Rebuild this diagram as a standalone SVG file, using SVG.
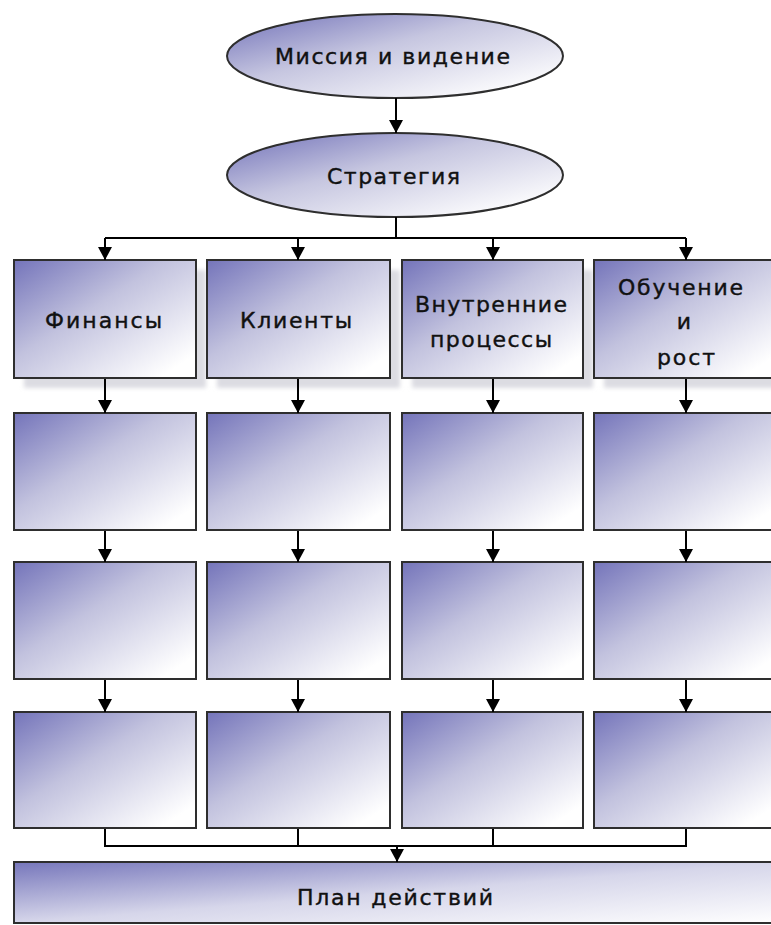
<svg xmlns="http://www.w3.org/2000/svg" width="771" height="925" viewBox="0 0 771 925">
  <defs>
    <linearGradient id="boxFill" x1="0" y1="0" x2="1" y2="1">
      <stop offset="0" stop-color="#7474ba"/>
      <stop offset="0.42" stop-color="#c2c2de"/>
      <stop offset="0.9" stop-color="#ffffff"/>
    </linearGradient>
    <linearGradient id="ovalFill" x1="0" y1="0" x2="1" y2="1">
      <stop offset="0" stop-color="#7070b8"/>
      <stop offset="0.42" stop-color="#c6c6e0"/>
      <stop offset="0.9" stop-color="#ffffff"/>
    </linearGradient>
    <linearGradient id="planFill" x1="0" y1="0" x2="1" y2="1">
      <stop offset="0" stop-color="#7676bb"/>
      <stop offset="0.5" stop-color="#d6d6ea"/>
      <stop offset="1" stop-color="#ffffff"/>
    </linearGradient>
    <filter id="soft" x="-10%" y="-10%" width="130%" height="130%">
      <feGaussianBlur stdDeviation="2"/>
    </filter>
    <marker id="arrow" viewBox="0 0 13 14" refX="13" refY="7" markerWidth="13" markerHeight="14" markerUnits="userSpaceOnUse" orient="auto">
      <path d="M0,0 L13,7 L0,14 z" fill="#000"/>
    </marker>
  </defs>
  <style>
    .box { fill: url(#boxFill); stroke: #2e2e2e; stroke-width: 2; }
    .oval { fill: url(#ovalFill); stroke: #2e2e2e; stroke-width: 2; }
    .plan { fill: url(#planFill); stroke: #2e2e2e; stroke-width: 2; }
    .shadow { fill: #dcdce2; filter: url(#soft); }
    .link { fill: none; stroke: #000; stroke-width: 2; }
    .arr { marker-end: url(#arrow); }
    text { font-family: "DejaVu Sans", Verdana, sans-serif; font-size: 22px; fill: #111; stroke: #111; stroke-width: 0.4; }
    .mid { text-anchor: middle; }
  </style>

  <rect width="771" height="925" fill="#ffffff"/>

  <!-- top ovals -->
  <g id="mission">
    <ellipse class="oval" cx="395" cy="56" rx="168" ry="42"/>
    <text x="275" y="64" textLength="235" lengthAdjust="spacing">Миссия и видение</text>
  </g>
  <g id="strategy">
    <ellipse class="oval" cx="395" cy="175" rx="168" ry="42"/>
    <text x="327" y="184" textLength="133" lengthAdjust="spacing">Стратегия</text>
  </g>

  <!-- perspectives -->
  <g id="finance">
    <rect class="shadow" x="24" y="270" width="182" height="118"/>
    <rect class="box" x="14" y="260" width="182" height="118"/>
    <text x="45" y="328" textLength="117" lengthAdjust="spacing">Финансы</text>
  </g>
  <g id="clients">
    <rect class="shadow" x="217" y="270" width="183" height="118"/>
    <rect class="box" x="207" y="260" width="183" height="118"/>
    <text x="240" y="328" textLength="112" lengthAdjust="spacing">Клиенты</text>
  </g>
  <g id="processes">
    <rect class="shadow" x="412" y="270" width="181" height="118"/>
    <rect class="box" x="402" y="260" width="181" height="118"/>
    <text x="415" y="312" textLength="152" lengthAdjust="spacing">Внутренние</text>
    <text x="430" y="347" textLength="122" lengthAdjust="spacing">процессы</text>
  </g>
  <g id="learning">
    <rect class="shadow" x="604" y="270" width="184" height="118"/>
    <rect class="box" x="594" y="260" width="184" height="118"/>
    <text x="618" y="295" textLength="125" lengthAdjust="spacing">Обучение</text>
    <text class="mid" x="684" y="329">и</text>
    <text x="657" y="365" textLength="58" lengthAdjust="spacing">рост</text>
  </g>

  <!-- row 2 -->
  <g id="finance-2"><rect class="box" x="14" y="413" width="182" height="117"/></g>
  <g id="clients-2"><rect class="box" x="207" y="413" width="183" height="117"/></g>
  <g id="processes-2"><rect class="box" x="402" y="413" width="181" height="117"/></g>
  <g id="learning-2"><rect class="box" x="594" y="413" width="184" height="117"/></g>

  <!-- row 3 -->
  <g id="finance-3"><rect class="box" x="14" y="562" width="182" height="117"/></g>
  <g id="clients-3"><rect class="box" x="207" y="562" width="183" height="117"/></g>
  <g id="processes-3"><rect class="box" x="402" y="562" width="181" height="117"/></g>
  <g id="learning-3"><rect class="box" x="594" y="562" width="184" height="117"/></g>

  <!-- row 4 -->
  <g id="finance-4"><rect class="box" x="14" y="712" width="182" height="116"/></g>
  <g id="clients-4"><rect class="box" x="207" y="712" width="183" height="116"/></g>
  <g id="processes-4"><rect class="box" x="402" y="712" width="181" height="116"/></g>
  <g id="learning-4"><rect class="box" x="594" y="712" width="184" height="116"/></g>

  <!-- action plan -->
  <g id="action-plan">
    <rect class="plan" x="14" y="862" width="770" height="61"/>
    <text x="297" y="905" textLength="196" lengthAdjust="spacing">План действий</text>
  </g>

  <!-- connectors, drawn above the shadows -->
  <g id="connectors">
    <line class="link arr" x1="396" y1="98" x2="396" y2="133"/>
    <polyline class="link" points="396,217 396,238"/>
    <line class="link" x1="105" y1="238" x2="686" y2="238"/>
    <line class="link arr" x1="105" y1="238" x2="105" y2="260"/>
    <line class="link arr" x1="298" y1="238" x2="298" y2="260"/>
    <line class="link arr" x1="493" y1="238" x2="493" y2="260"/>
    <line class="link arr" x1="686" y1="238" x2="686" y2="260"/>

    <line class="link arr" x1="105" y1="379" x2="105" y2="413"/>
    <line class="link arr" x1="298" y1="379" x2="298" y2="413"/>
    <line class="link arr" x1="493" y1="379" x2="493" y2="413"/>
    <line class="link arr" x1="686" y1="379" x2="686" y2="413"/>

    <line class="link arr" x1="105" y1="531" x2="105" y2="562"/>
    <line class="link arr" x1="298" y1="531" x2="298" y2="562"/>
    <line class="link arr" x1="493" y1="531" x2="493" y2="562"/>
    <line class="link arr" x1="686" y1="531" x2="686" y2="562"/>

    <line class="link arr" x1="105" y1="680" x2="105" y2="712"/>
    <line class="link arr" x1="298" y1="680" x2="298" y2="712"/>
    <line class="link arr" x1="493" y1="680" x2="493" y2="712"/>
    <line class="link arr" x1="686" y1="680" x2="686" y2="712"/>

    <polyline class="link" points="105,829 105,846 686,846 686,829"/>
    <line class="link" x1="298" y1="829" x2="298" y2="846"/>
    <line class="link" x1="493" y1="829" x2="493" y2="846"/>
    <line class="link arr" x1="397" y1="846" x2="397" y2="862"/>
  </g>
</svg>
